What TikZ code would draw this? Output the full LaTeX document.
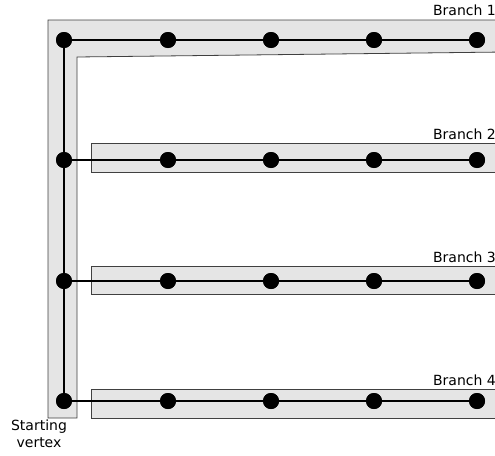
\documentclass[tikz,border=0pt]{standalone}
\usepackage{fontspec}
\setmainfont{DejaVu Sans}
\begin{document}
\begin{tikzpicture}[x=1pt,y=-1pt,
  band/.style={fill=black!10, draw=black!75, line width=0.8pt},
  edge/.style={draw=black, line width=1.6pt},
  vtx/.style={circle, fill=black, inner sep=0pt, minimum size=16pt},
  lbl/.style={font=\fontsize{14}{16}\selectfont, inner sep=0pt}]
\useasboundingbox (0,0) rectangle (495,455);
\clip (0,0) rectangle (495,455);

% grey bands behind each path
\draw[band] (48,20) -- (505,20) -- (505,52) -- (77,57) -- (77,418) -- (48,418) -- cycle;
\draw[band] (91,143) rectangle (505,172);
\draw[band] (91,266) rectangle (505,294);
\draw[band] (91,389) rectangle (505,418);

% vertices
\foreach \r/\y in {1/40,2/160,3/281,4/401}{
  \foreach \c/\x in {1/64,2/168,3/271,4/374,5/477}{
    \node[vtx] (v\r\c) at (\x,\y) {};
  }
}

% edges
\draw[edge] (v11.center) -- (v41.center);
\foreach \r in {1,2,3,4}{
  \draw[edge] (v\r1.center) -- (v\r5.center);
}
\foreach \r/\y in {1/40,2/160,3/281,4/401}{
  \foreach \c/\x in {1/64,2/168,3/271,4/374,5/477}{
    \fill (\x,\y) circle (8);
  }
}

% labels
\node[lbl, anchor=base east] (b1) at (496,16) {Branch 1};
\node[lbl, anchor=base east] (b2) at (496,139) {Branch 2};
\node[lbl, anchor=base east] (b3) at (496,262) {Branch 3};
\node[lbl, anchor=base east] (b4) at (496,385) {Branch 4};
\node[lbl, align=center, anchor=north, font=\fontsize{14}{17}\selectfont] (sv) at (39,420) {Starting\\vertex};
\end{tikzpicture}
\end{document}
